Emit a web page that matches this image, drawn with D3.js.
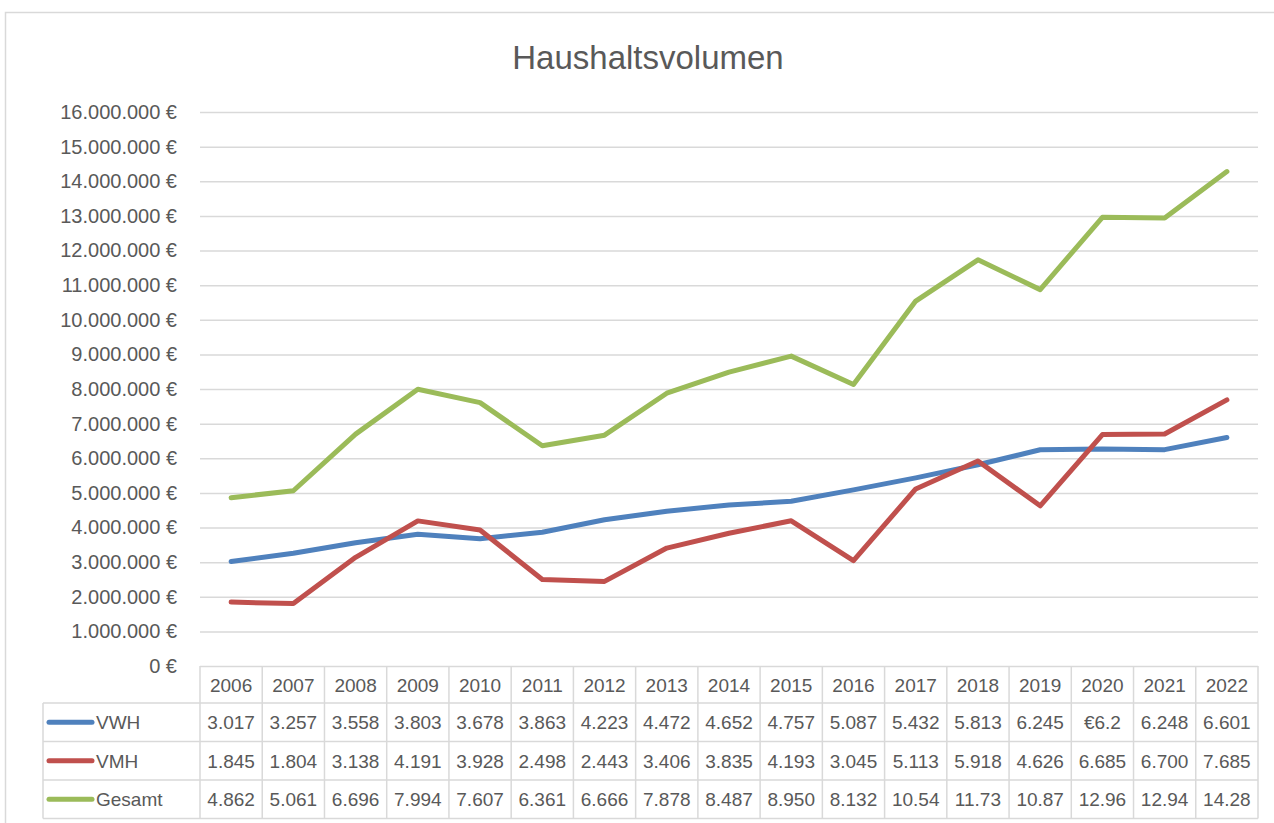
<!DOCTYPE html>
<html>
<head>
<meta charset="utf-8">
<script src="https://cdn.jsdelivr.net/npm/d3@7"></script>
<style>
  body { margin: 0; background: #fff; }
  svg text { font-family: 'Liberation Sans', Arial, sans-serif; fill: #595959; }
</style>
</head>
<body>
<div id="chart"></div>
<script>
// Data (values in euro, labels as shown in the data table)
const years = ['2006','2007','2008','2009','2010','2011','2012','2013','2014','2015','2016','2017','2018','2019','2020','2021','2022']

const vwh = [3017000, 3257000, 3558000, 3803000, 3678000, 3863000, 4223000, 4472000, 4652000, 4757000, 5087000, 5432000, 5813000, 6245000, 6270000, 6248000, 6601000]
const vmh = [1845000, 1804000, 3138000, 4191000, 3928000, 2498000, 2443000, 3406000, 3835000, 4193000, 3045000, 5113000, 5918000, 4626000, 6685000, 6700000, 7685000]
const gesamt = [4862000, 5061000, 6696000, 7994000, 7607000, 6361000, 6666000, 7878000, 8487000, 8950000, 8132000, 10540000, 11730000, 10870000, 12960000, 12940000, 14280000]

const vwhLabels = ['3.017','3.257','3.558','3.803','3.678','3.863','4.223','4.472','4.652','4.757','5.087','5.432','5.813','6.245','€6.2','6.248','6.601']
const vmhLabels = ['1.845','1.804','3.138','4.191','3.928','2.498','2.443','3.406','3.835','4.193','3.045','5.113','5.918','4.626','6.685','6.700','7.685']
const gesamtLabels = ['4.862','5.061','6.696','7.994','7.607','6.361','6.666','7.878','8.487','8.950','8.132','10.54','11.73','10.87','12.96','12.94','14.28']

const seriesNames = ['VWH', 'VMH', 'Gesamt']
const seriesColors = ['#4f81bd', '#c0504d', '#9bbb59']
const yTicks = d3.range(0, 16000001, 1000000)

const series = [
  { name: seriesNames[0], values: vwh, labels: vwhLabels, color: seriesColors[0] },
  { name: seriesNames[1], values: vmh, labels: vmhLabels, color: seriesColors[1] },
  { name: seriesNames[2], values: gesamt, labels: gesamtLabels, color: seriesColors[2] }
]

const width = 1274, height = 823
const plot = { left: 200, right: 1258, top: 112, bottom: 666 }
const grid = '#d9d9d9'

const svg = d3.select('#chart').append('svg')
  .attr('width', width)
  .attr('height', height)

// chart frame (runs off the right and bottom edge)
svg.append('path')
  .attr('d', 'M5.5,' + (height + 5) + 'V12.5H' + (width + 5))
  .attr('fill', 'none')
  .attr('stroke', grid)
  .attr('stroke-width', 1.5)

svg.append('text')
  .attr('x', 648)
  .attr('y', 69)
  .attr('text-anchor', 'middle')
  .style('font-size', '33px')
  .text('Haushaltsvolumen')

// Scales
const x = d3.scaleBand().domain(years).range([plot.left, plot.right])
const y = d3.scaleLinear().domain([0, 16000000]).range([plot.bottom, plot.top])

const fmt = d3.formatLocale({ decimal: ',', thousands: '.', grouping: [3], currency: ['', ' €'] }).format('$,.0f')

// y axis with gridlines
const yAxis = svg.append('g')
  .attr('transform', 'translate(' + plot.left + ',0)')
  .call(d3.axisLeft(y).tickValues(yTicks).tickFormat(fmt).tickSize(-(plot.right - plot.left)).tickPadding(23))
yAxis.select('.domain').remove()
yAxis.selectAll('.tick line').attr('stroke', grid).attr('stroke-width', 1.5)
yAxis.selectAll('.tick text')
  .style('font-size', '20px')
  .attr('fill', '#595959')

// lines
const line = d3.line()
  .x((d, i) => x(years[i]) + x.bandwidth() / 2)
  .y(d => y(d))

svg.selectAll('.series')
  .data(series)
  .enter().append('path')
    .attr('class', 'series')
    .attr('d', d => line(d.values))
    .attr('fill', 'none')
    .attr('stroke', d => d.color)
    .attr('stroke-width', 5)
    .attr('stroke-linejoin', 'round')
    .attr('stroke-linecap', 'round')

// data table
const headerTop = plot.bottom, headerH = 37, rowH = 38.5
const legendLeft = 43
const table = svg.append('g').attr('class', 'table')

const rowTop = i => headerTop + headerH + i * rowH
const tableBottom = rowTop(series.length)

// horizontal lines
table.selectAll('.hline')
  .data(series.map((d, i) => rowTop(i)).concat([tableBottom]))
  .enter().append('line')
    .attr('x1', legendLeft).attr('x2', plot.right)
    .attr('y1', d => d).attr('y2', d => d)
    .attr('stroke', grid).attr('stroke-width', 1.5)

// vertical lines
table.selectAll('.vline')
  .data(years.map(d => x(d)).concat([plot.right]))
  .enter().append('line')
    .attr('x1', d => d).attr('x2', d => d)
    .attr('y1', headerTop).attr('y2', tableBottom)
    .attr('stroke', grid).attr('stroke-width', 1.5)
table.append('line')
  .attr('x1', legendLeft).attr('x2', legendLeft)
  .attr('y1', rowTop(0)).attr('y2', tableBottom)
  .attr('stroke', grid).attr('stroke-width', 1.5)

// year header
table.selectAll('.year')
  .data(years)
  .enter().append('text')
    .attr('x', d => x(d) + x.bandwidth() / 2)
    .attr('y', headerTop + headerH / 2 + 7)
    .attr('text-anchor', 'middle')
    .style('font-size', '19px')
    .text(d => d)

const rows = table.selectAll('.row')
  .data(series)
  .enter().append('g')
    .attr('transform', (d, i) => 'translate(0,' + (rowTop(i) + rowH / 2) + ')')

rows.append('line')
  .attr('x1', 49).attr('x2', 92)
  .attr('stroke', d => d.color)
  .attr('stroke-width', 5)
  .attr('stroke-linecap', 'round')

rows.append('text')
  .attr('x', 96)
  .attr('y', 7)
  .style('font-size', '19px')
  .text(d => d.name)

rows.selectAll('.cell')
  .data(d => d.labels)
  .enter().append('text')
    .attr('x', (d, i) => x(years[i]) + x.bandwidth() / 2)
    .attr('y', 7)
    .attr('text-anchor', 'middle')
    .style('font-size', '19px')
    .text(d => d)
</script>
</body>
</html>
